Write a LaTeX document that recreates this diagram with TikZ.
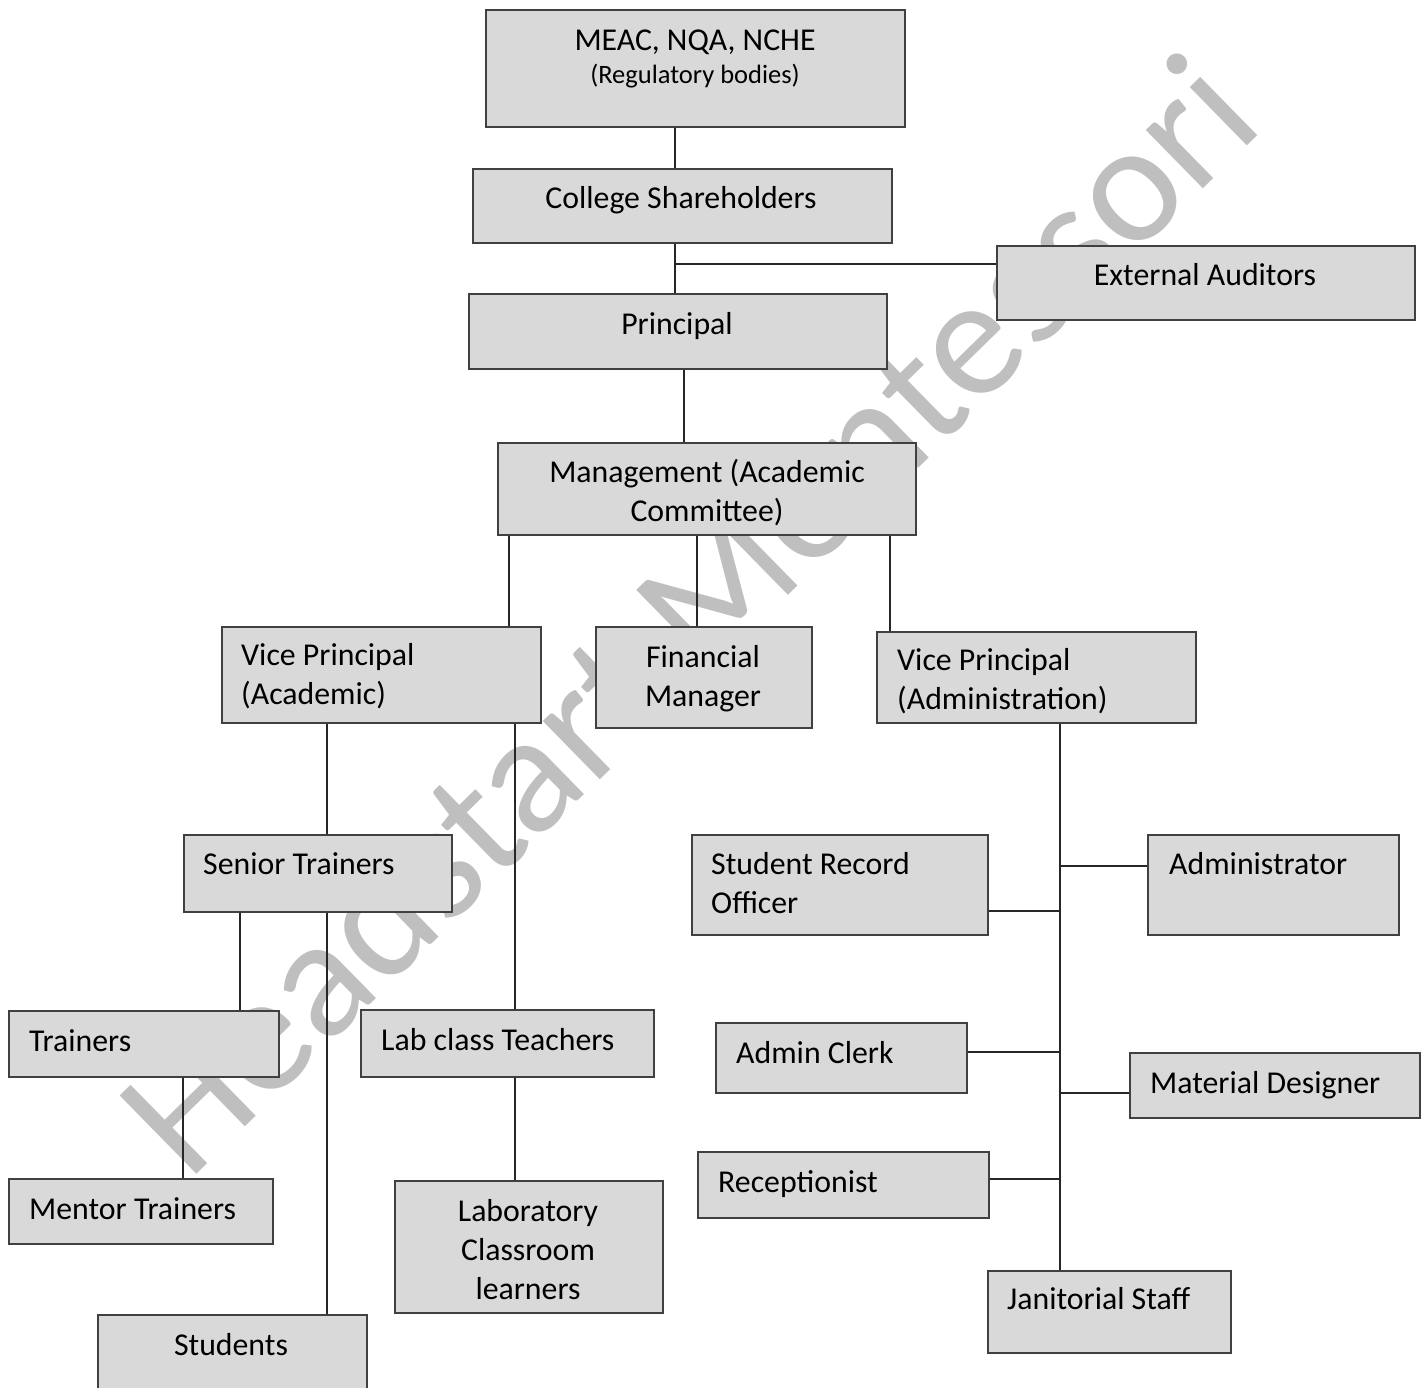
\documentclass[tikz,border=0pt]{standalone}
\usepackage{fontspec}
\setmainfont{Carlito}
\usetikzlibrary{positioning}
\tikzset{
  org box/.style={draw=black!75, fill=gray!30, line width=1.5pt, inner sep=0pt, anchor=north west},
  box text/.style={font=\fontsize{31.8}{39}\selectfont, inner sep=0pt, anchor=base, align=center},
  left text/.style={box text, anchor=base west, align=left},
  small text/.style={box text, font=\fontsize{26.5}{32}\selectfont},
  link/.style={draw=black!85, line width=1.4pt},
  watermark/.style={font=\fontsize{171}{173}\selectfont, text=gray!50, anchor=base west, rotate=44.4, inner sep=0pt},
}

\begin{document}
\begin{tikzpicture}[x=1pt,y=-1pt]
\useasboundingbox (0,0) rectangle (1427,1387);
% the watermark, behind everything
\node [watermark] (wm) at (188,1183) {Headstart Montessori};
% the boxes
\node [org box, minimum width=419pt, minimum height=117pt] (bbReg) at (485,9) {};
\node [org box, minimum width=419pt, minimum height=74pt] (bbShare) at (472,168) {};
\node [org box, minimum width=418pt, minimum height=74pt] (bbAudit) at (996,245) {};
\node [org box, minimum width=418pt, minimum height=75pt] (bbPrin) at (468,293) {};
\node [org box, minimum width=418pt, minimum height=92pt] (bbMgmt) at (497,442) {};
\node [org box, minimum width=319pt, minimum height=96pt] (bbVPAc) at (221,626) {};
\node [org box, minimum width=216pt, minimum height=101pt] (bbFin) at (595,626) {};
\node [org box, minimum width=319pt, minimum height=91pt] (bbVPAd) at (876,631) {};
\node [org box, minimum width=268pt, minimum height=77pt] (bbSenior) at (183,834) {};
\node [org box, minimum width=296pt, minimum height=100pt] (bbRecord) at (691,834) {};
\node [org box, minimum width=251pt, minimum height=100pt] (bbAdmin) at (1147,834) {};
\node [org box, minimum width=270pt, minimum height=66pt] (bbTrain) at (8,1010) {};
\node [org box, minimum width=293pt, minimum height=67pt] (bbLab) at (360,1009) {};
\node [org box, minimum width=251pt, minimum height=70pt] (bbClerk) at (715,1022) {};
\node [org box, minimum width=290pt, minimum height=65pt] (bbMat) at (1129,1052) {};
\node [org box, minimum width=264pt, minimum height=65pt] (bbMentor) at (8,1178) {};
\node [org box, minimum width=268pt, minimum height=132pt] (bbLearn) at (394,1180) {};
\node [org box, minimum width=291pt, minimum height=66pt] (bbRecep) at (697,1151) {};
\node [org box, minimum width=243pt, minimum height=82pt] (bbJan) at (987,1270) {};
\node [org box, minimum width=269pt, minimum height=90pt] (bbStud) at (97,1314) {};
% the texts (multi-line ones sit on their last baseline)
\node [box text] (tReg) at (695,50) {MEAC, NQA, NCHE};
\node [small text] (tRegB) at (695,83) {(Regulatory bodies)};
\node [box text] (tShare) at (681,208) {College Shareholders};
\node [box text] (tAudit) at (1205,285) {External Auditors};
\node [box text] (tPrin) at (677,334) {Principal};
\node [box text] (tMgmt) at (707,521) {Management (Academic\\Committee)};
\node [left text] (tVPAc) at (241,704) {Vice Principal\\(Academic)};
\node [box text] (tFin) at (703,706) {Financial\\Manager};
\node [left text] (tVPAd) at (897,709) {Vice Principal\\(Administration)};
\node [left text] (tSenior) at (203,874) {Senior Trainers};
\node [left text] (tRecord) at (711,913) {Student Record\\Officer};
\node [left text] (tAdmin) at (1169,874) {Administrator};
\node [left text] (tTrain) at (29,1051) {Trainers};
\node [left text] (tLab) at (381,1050) {Lab class Teachers};
\node [left text] (tClerk) at (736,1063) {Admin Clerk};
\node [left text] (tMat) at (1150,1093) {Material Designer};
\node [left text] (tMentor) at (29,1219) {Mentor Trainers};
\node [box text] (tLearn) at (528,1299) {Laboratory\\Classroom\\learners};
\node [left text] (tRecep) at (718,1192) {Receptionist};
\node [left text] (tJan) at (1007,1309) {Janitorial Staff};
\node [box text] (tStud) at (231,1355) {Students};
% the lines
\draw [link] (bbReg.south -| 675,0) -- (bbShare.north -| 675,0);
\draw [link] (bbShare.south -| 675,0) -- (bbPrin.north -| 675,0);
\draw [link] (675,264) -- (bbAudit.west |- 0,264);
\draw [link] (bbPrin.south -| 684,0) -- (bbMgmt.north -| 684,0);
\foreach \x/\b in {509/bbVPAc, 697/bbFin, 890/bbVPAd}
  \draw [link] (bbMgmt.south -| \x,0) -- (\b.north -| \x,0);
\draw [link] (bbVPAc.south -| 327,0) -- (bbSenior.north -| 327,0);
\draw [link] (bbVPAc.south -| 515,0) -- (bbLab.north -| 515,0);
\draw [link] (bbSenior.south -| 240,0) -- (bbTrain.north -| 240,0);
\draw [link] (bbSenior.south -| 327,0) -- (bbStud.north -| 327,0);
\draw [link] (bbTrain.south -| 183,0) -- (bbMentor.north -| 183,0);
\draw [link] (bbLab.south -| 515,0) -- (bbLearn.north -| 515,0);
\draw [link] (bbVPAd.south -| 1060,0) -- (bbJan.north -| 1060,0);
\foreach \b/\y in {bbAdmin/866, bbMat/1093}
  \draw [link] (1060,\y) -- (\b.west |- 0,\y);
\foreach \b/\y in {bbRecord/911, bbClerk/1052, bbRecep/1179}
  \draw [link] (\b.east |- 0,\y) -- (1060,\y);
\end{tikzpicture}
\end{document}
